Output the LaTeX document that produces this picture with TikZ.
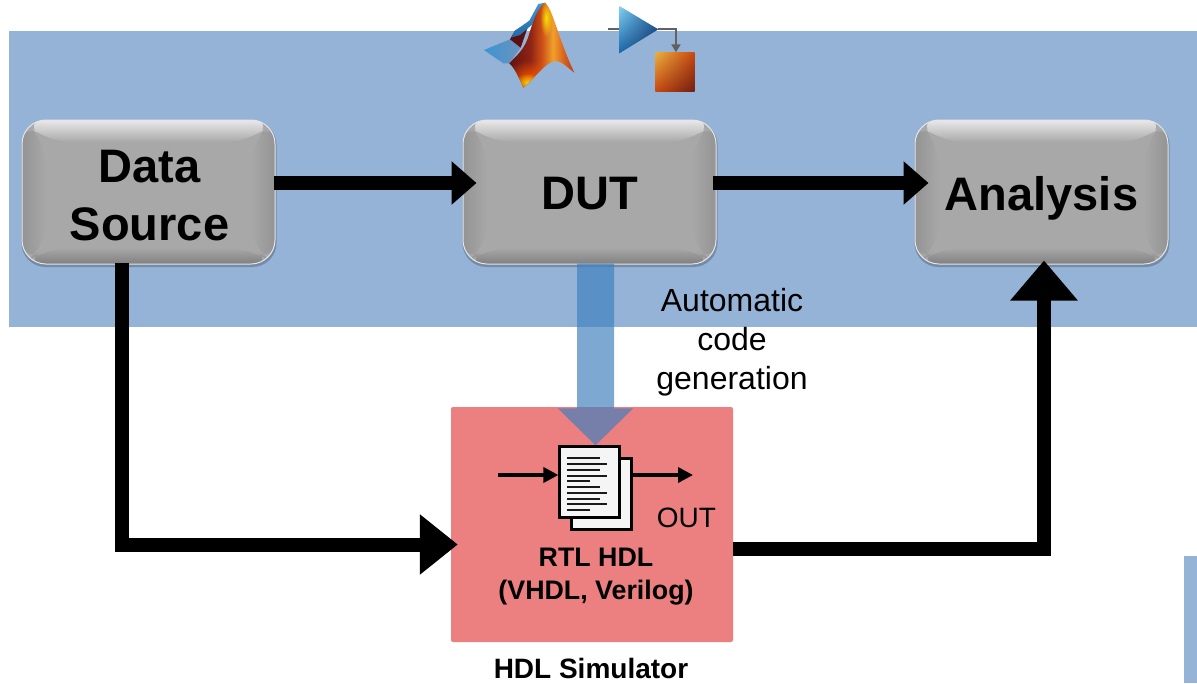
\documentclass[tikz,border=0pt]{standalone}
\usepackage{fontspec}
\setmainfont{Liberation Sans}
\usetikzlibrary{arrows.meta,calc,fadings,shadings}
\definecolor{bandblue}{HTML}{95B3D7}
\definecolor{pinkbox}{HTML}{EC7F7F}
\definecolor{flowblue}{RGB}{62,128,190}
\definecolor{boxgray}{HTML}{A8A8A8}
\definecolor{mA}{HTML}{5A1012}
\definecolor{mB}{HTML}{8E2414}
\definecolor{mC}{HTML}{CC4F18}
\definecolor{mD}{HTML}{F0A02C}
\definecolor{mE}{HTML}{D9601E}
\definecolor{mF}{HTML}{A8301A}
\definecolor{wingA}{HTML}{3C94D2}
\definecolor{wingB}{HTML}{6C93BE}
\definecolor{ridgeA}{HTML}{3E9AD6}
\definecolor{ridgeB}{HTML}{1F6AA8}
\definecolor{triA}{HTML}{84D2F2}
\definecolor{triB}{HTML}{1A66A8}
\definecolor{triC}{HTML}{1B2F60}
\definecolor{sqA}{HTML}{E8B040}
\definecolor{sqB}{HTML}{DC6414}
\definecolor{sqC}{HTML}{6E1E14}
\definecolor{sqD}{HTML}{C8460E}
\tikzfading[name=softspot,inner color=transparent!15,outer color=transparent!100]
\pgfdeclarehorizontalshading{membrane}{100bp}{
  color(0bp)=(mA);
  color(25bp)=(mA);
  color(42bp)=(mB);
  color(50bp)=(mC);
  color(58bp)=(mD);
  color(66bp)=(mE);
  color(76bp)=(mF);
  color(100bp)=(mF)}
\tikzset{
  x=1pt,y=-1pt,
  bevelbox/.style={rectangle,rounded corners=24pt,minimum width=253pt,minimum height=144pt,
    inner sep=0pt,fill=boxgray,draw=white!70!boxgray,line width=1pt,align=center,
    font=\fontsize{47}{58}\selectfont\bfseries,
    path picture={
      \coordinate (NW) at (path picture bounding box.north west);
      \coordinate (NE) at (path picture bounding box.north east);
      \coordinate (SW) at (path picture bounding box.south west);
      \coordinate (SE) at (path picture bounding box.south east);
      \shade[top color=white!75!boxgray,bottom color=boxgray] (NW)--(NE)--($(NE)+(-24,22)$)--($(NW)+(24,22)$)--cycle;
      \shade[left color=black!42,right color=boxgray] (NW)--($(NW)+(24,22)$)--($(SW)+(24,-16)$)--(SW)--cycle;
      \shade[right color=black!42,left color=boxgray] (NE)--($(NE)+(-24,22)$)--($(SE)+(-24,-16)$)--(SE)--cycle;
      \shade[bottom color=black!50,top color=boxgray] (SW)--(SE)--($(SE)+(-24,-16)$)--($(SW)+(24,-16)$)--cycle;
    }},
  softshadow/.style={rectangle,rounded corners=24pt,minimum width=255pt,minimum height=146pt,fill=black,opacity=.22,inner sep=0pt},
  bigflow/.style={line width=13.5pt,-{Triangle[length=25pt,width=42pt]}},
  sideflow/.style={line width=14pt,line join=miter,-{Triangle[length=38pt,width=58pt]}},
  upflow/.style={line width=14pt,line join=miter,-{Triangle[length=40pt,width=65pt]}},
  smallflow/.style={line width=3.6pt,-{Triangle[length=15pt,width=15pt]}},
  genflow/.style={line width=37pt,draw=flowblue,-{Triangle[length=37pt,width=73pt]}},
  pagesheet/.style={rectangle,draw=black,line width=2.2pt,fill=white!96!black,minimum width=60pt,minimum height=71pt,inner sep=0pt},
  labeltext/.style={align=center,inner sep=0pt},
  textrule/.style={line width=1.9pt,black!90}
}
\begin{document}
\begin{tikzpicture}
\useasboundingbox (0,0) rectangle (1197,683);
\fill[white] (0,0) rectangle (1197,683);
% bands
\fill[bandblue] (9,31) rectangle (1197,327);
\fill[bandblue] (1184,556) rectangle (1197,683);

% MATLAB logo
\begin{scope}[shift={(470,0)},x=0.3333pt,y=-0.3333pt]
  \shade[left color=wingA,right color=wingB] (42,150)--(120,118)--(152,143)--(118,190)--(100,190)--cycle;
  \fill[mA] (120,118)--(135,92)--(178,68)--(152,143)--cycle;
  \shade[top color=ridgeA,bottom color=ridgeB] (225,8)--(205,12)--(178,62)--(135,92)--(125,112)--(150,105)--(185,75)--cycle;
  \begin{scope}
  \clip (225,8)
     .. controls (250,30) and (262,110) .. (313,218)
     .. controls (295,205) and (275,183) .. (258,183)
     .. controls (225,185) and (195,235) .. (160,263)
     .. controls (150,240) and (135,205) .. (118,190)
     .. controls (140,165) and (165,150) .. (178,100)
     .. controls (190,60) and (205,20) .. (225,8) -- cycle;
  \shade[shading=membrane] (110,0) rectangle (320,270);
  \fill[orange!70!red,path fading=softspot] (180,235) ellipse (80 and 55);
  \fill[yellow!90!orange,path fading=softspot] (172,248) ellipse (40 and 28);
  \fill[yellow,path fading=softspot] (228,55) ellipse (18 and 55);
  \end{scope}
  % Simulink-style icon
  \draw[line width=2pt,black!62] (415,88)--(448,88);
  \shade[upper left=triA,lower left=triB,upper right=triB,lower right=triC] (448,18)--(565,88)--(448,160)--cycle;
  \draw[line width=2pt,black!62,-{Triangle[length=8pt,width=9pt]}] (565,88)--(618,88)--(618,157);
  \shade[upper left=sqA,upper right=sqD,lower right=sqC,lower left=sqD] (556,158) rectangle (674,276);
\end{scope}

% simulator box
\node[rectangle,rounded corners=2pt,fill=pinkbox,minimum width=282pt,minimum height=235pt,inner sep=0pt] (hdl) at (592,524.5) {};

% boxes
\node[softshadow] at (149,194) {};
\node[softshadow] at (590,194) {};
\node[softshadow] at (1042,194) {};
\node[bevelbox] (src) at (148.5,192) {\hspace*{2pt}\rule{0pt}{40pt}Data\\\hspace*{2pt}Source};
\node[bevelbox] (dut) at (589.5,192) {\rule{0pt}{36pt}DUT};
\node[bevelbox,text height=36pt,text depth=0pt] (ana) at (1041.5,192) {Analysis};

% document icon
\node[pagesheet] (backpage) at (601.5,494) {};
\node[pagesheet] (doc) at (589.5,482) {};
\foreach \yy/\xe in {458.3/600,464/607,470/600,475.7/607,481.3/589.5,487/600,493/607,498.7/600,504.3/607,510/589.5}
   \draw[textrule] (567,\yy) -- (\xe,\yy);

% flows
\begin{scope}[transparency group,opacity=.68]
\draw[genflow] ([xshift=6pt,yshift=1pt]dut.south) -- ([xshift=6pt]doc.north);
\end{scope}
\draw[bigflow] ([yshift=9pt,xshift=-2pt]src.east) -- ([yshift=9pt,xshift=14pt]dut.west);
\draw[bigflow] ([yshift=9pt,xshift=-4pt]dut.east) -- ([yshift=9pt,xshift=14pt]ana.west);
\draw[sideflow] ([xshift=-27pt,yshift=2pt]src.south) |- ([yshift=-20pt,xshift=7pt]hdl.west);
\draw[upflow] ([yshift=-24pt]hdl.east) -| ([xshift=2.5pt,yshift=4pt]ana.south);

\coordinate (inl) at (498,475);
\coordinate (outr) at (693,475);
\draw[smallflow] (inl) -- (doc.west |- inl);
\draw[smallflow] (backpage.east |- outr) -- (outr);

% labels
\node[labeltext,font=\fontsize{32}{39}\selectfont] (autogen) at (732,342) {Automatic\\code\\generation};
\node[labeltext,font=\fontsize{28}{32}\selectfont] (outl) at (686.5,518) {OUT};
\node[labeltext,font=\fontsize{26.8}{33}\selectfont\bfseries] (rtl) at (596,577) {RTL HDL\\(VHDL, Verilog)};
\node[labeltext,font=\fontsize{28}{32}\selectfont\bfseries] (sim) at (591,668) {HDL Simulator};
\end{tikzpicture}
\end{document}
